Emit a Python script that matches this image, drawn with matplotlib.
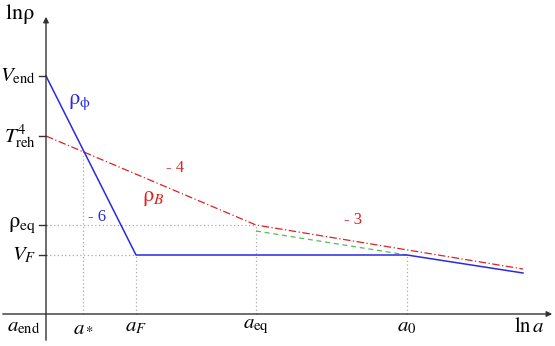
import numpy as np
import matplotlib.pyplot as plt

plt.rcParams['font.family'] = ['Liberation Serif', 'DejaVu Serif']
plt.rcParams['mathtext.fontset'] = 'stix'

# schematic coordinates (x = ln a, y = ln rho)
a_end, a_star, a_F, a_eq, a_0, a_late = 46, 83, 136, 256, 407, 523
V_end, T_reh, rho_eq, V_F, rho_star = 270, 210, 121, 91, 195

phi_x = [a_end, a_F, a_0, a_late]
phi_y = [V_end, V_F, V_F, 73]
rhoB_x = [a_end, a_eq, a_late]
rhoB_y = [T_reh, rho_eq, 77]
green_x = [a_eq, a_0]
green_y = [115, V_F]

fig = plt.figure(figsize=(5.55, 3.46), dpi=100)
ax = fig.add_axes([0, 0, 1, 1])
ax.set_xlim(0, 555)
ax.set_ylim(0, 346)
ax.axis('off')

# axes with arrows
ax.annotate('', xy=(555, 32), xytext=(0, 32),
            arrowprops=dict(arrowstyle='-|>', color='#333333', lw=1, mutation_scale=8))
ax.annotate('', xy=(46, 332), xytext=(46, 3),
            arrowprops=dict(arrowstyle='-|>', color='#333333', lw=1, mutation_scale=8))

# guide lines
dot = dict(color='#aaaaaa', lw=0.9, ls=(0, (1, 2)))
ax.plot([a_star, a_star], [32, rho_star], **dot)
ax.plot([a_F, a_F], [32, V_F], **dot)
ax.plot([a_eq, a_eq], [32, rho_eq], **dot)
ax.plot([a_0, a_0], [32, V_F], **dot)
ax.plot([a_end, a_eq], [rho_eq, rho_eq], **dot)
ax.plot([a_end, a_F], [V_F, V_F], **dot)

# tick marks on the y axis
for yv in [V_end, T_reh, rho_eq, V_F]:
    ax.plot([39, 46], [yv, yv], color='#333333', lw=1)

ax.plot(green_x, green_y, color='#55bb55', lw=0.9, ls=(0, (4, 3)))
ax.plot(rhoB_x, rhoB_y, color='#e02020', lw=0.9, ls=(0, (6, 2, 1, 2)))
ax.plot(phi_x, phi_y, color='#2a2ae0', lw=1.1)

fs = 15
ax.text(5, 332, r'$\mathrm{ln}\mathrm{\rho}$', fontsize=fs + 1, va='center')
ax.text(545, 19, r'$\ln a$', fontsize=fs, ha='right', va='center')
ax.text(36, V_end, r'$V_{\rm end}$', fontsize=fs, ha='right', va='center')
ax.text(36, T_reh, r'$T^4_{\rm reh}$', fontsize=fs, ha='right', va='center')
ax.text(36, rho_eq, r'$\mathrm{\rho}_{\rm eq}$', fontsize=fs + 1, ha='right', va='center')
ax.text(36, V_F, r'$V_F$', fontsize=fs, ha='right', va='center')

for xv, lab in [(24, r'$a_{\rm end}$'), (a_star, r'$a_*$'), (a_F, r'$a_F$'),
                (a_eq, r'$a_{\rm eq}$'), (a_0, r'$a_0$')]:
    ax.text(xv, 19, lab, fontsize=fs, ha='center', va='center')

ax.text(68, 244, r'$\mathrm{\rho}_{\mathrm{\phi}}$', fontsize=fs + 1, color='#2a2ae0', va='center')
ax.text(88, 129, '- 6', fontsize=12, color='#2a2ae0', va='center')
ax.text(142, 148, r'$\mathrm{\rho}_B$', fontsize=fs + 1, color='#e02020', va='center')
ax.text(166, 178, '- 4', fontsize=12, color='#e02020', va='center')
ax.text(344, 126, '- 3', fontsize=12, color='#e02020', va='center')

fig.savefig('out.png', dpi=100)
